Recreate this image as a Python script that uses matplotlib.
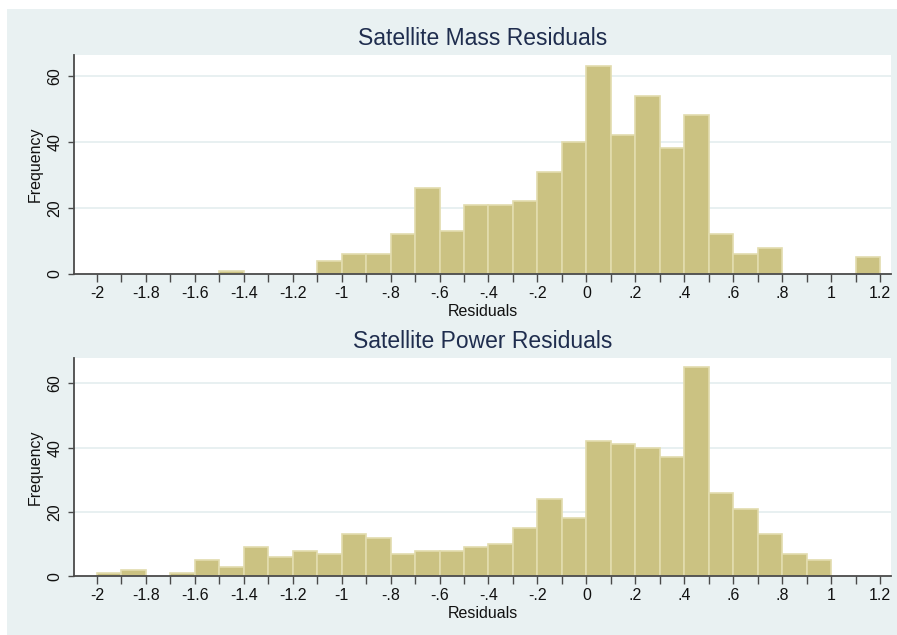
import matplotlib
matplotlib.use('Agg')
import matplotlib.pyplot as plt
import matplotlib.patches as mpatches
import numpy as np

plt.rcParams['font.family'] = ['Liberation Sans', 'DejaVu Sans']

# 直方图数据: 分箱从 -2.0 开始, 宽度 0.1, 共 32 个分箱
bin_start = -2.0
bin_width = 0.1
mass_counts = [0, 0, 0, 0, 0, 1, 0, 0, 0, 4, 6, 6, 12, 26, 13, 21,
               21, 22, 31, 40, 63, 42, 54, 38, 48, 12, 6, 8, 0, 0, 0, 5]
power_counts = [1, 2, 0, 1, 5, 3, 9, 6, 8, 7, 13, 12, 7, 8, 8, 9,
                10, 15, 24, 18, 42, 41, 40, 37, 65, 26, 21, 13, 7, 5, 0, 0]

titles = ["Satellite Mass Residuals", "Satellite Power Residuals"]
x_ticks = [-2, -1.8, -1.6, -1.4, -1.2, -1, -0.8, -0.6, -0.4, -0.2, 0, 0.2, 0.4, 0.6, 0.8, 1, 1.2]
x_tick_labels = ["-2", "-1.8", "-1.6", "-1.4", "-1.2", "-1", "-.8", "-.6", "-.4", "-.2",
                 "0", ".2", ".4", ".6", ".8", "1", "1.2"]
y_ticks = [0, 20, 40, 60]

BG = '#E9F1F2'
BAR = '#CBC282'
BAR_EDGE = '#E2DCAE'
AXIS = '#4A4A4A'
TITLE_C = '#1F2D4E'

fig = plt.figure(figsize=(8.97, 6.35), dpi=100)
fig.patch.set_facecolor('white')
# Stata 风格的浅蓝灰背景区域
fig.patches.append(mpatches.Rectangle((7 / 897, 0), 1 - 7 / 897, 1 - 9 / 635,
                                      transform=fig.transFigure, facecolor=BG,
                                      edgecolor='none', zorder=-10))

axes_pos = [[0.0825, 0.5685, 0.9108, 0.3449],
            [0.0825, 0.0924, 0.9108, 0.3443]]
y_tops = [66.3, 67.95]

for counts, title, pos, ytop in zip([mass_counts, power_counts], titles, axes_pos, y_tops):
    ax = fig.add_axes(pos)
    ax.set_facecolor('white')

    lefts = [bin_start + i * bin_width for i in range(len(counts))]
    lefts_nz = [l for l, c in zip(lefts, counts) if c > 0]
    counts_nz = [c for c in counts if c > 0]
    ax.bar(lefts_nz, counts_nz, width=bin_width, align='edge', color=BAR,
           edgecolor=BAR_EDGE, linewidth=1.2, zorder=3)

    ax.set_xlim(-2.094, 1.245)
    ax.set_ylim(0, ytop)

    ax.set_xticks(x_ticks)
    ax.set_xticklabels(x_tick_labels)
    ax.set_xticks(np.arange(-1.9, 1.2, 0.2), minor=True)
    ax.set_yticks(y_ticks)
    ax.set_yticklabels([str(v) for v in y_ticks], rotation=90, va='center')

    ax.tick_params(axis='x', which='both', length=5.5, width=1, color=AXIS,
                   labelsize=11.5, pad=3, labelcolor='#111111')
    ax.tick_params(axis='y', length=4.5, width=1, color=AXIS,
                   labelsize=11.5, pad=4, labelcolor='#111111')

    for y in y_ticks[1:]:
        ax.axhline(y, color='#E4EDEF', linewidth=1.2, zorder=1)

    for s in ['top', 'right']:
        ax.spines[s].set_visible(False)
    for s in ['left', 'bottom']:
        ax.spines[s].set_color(AXIS)
        ax.spines[s].set_linewidth(1.3)
        ax.spines[s].set_zorder(4)

    ax.set_title(title, fontsize=16.5, color=TITLE_C, pad=7)
    ax.set_xlabel('Residuals', fontsize=11.5, labelpad=2, color='#111111')
    ax.set_ylabel('Frequency', fontsize=11.5, labelpad=3, color='#111111')

plt.savefig('out.png', dpi=100, facecolor=fig.get_facecolor())
